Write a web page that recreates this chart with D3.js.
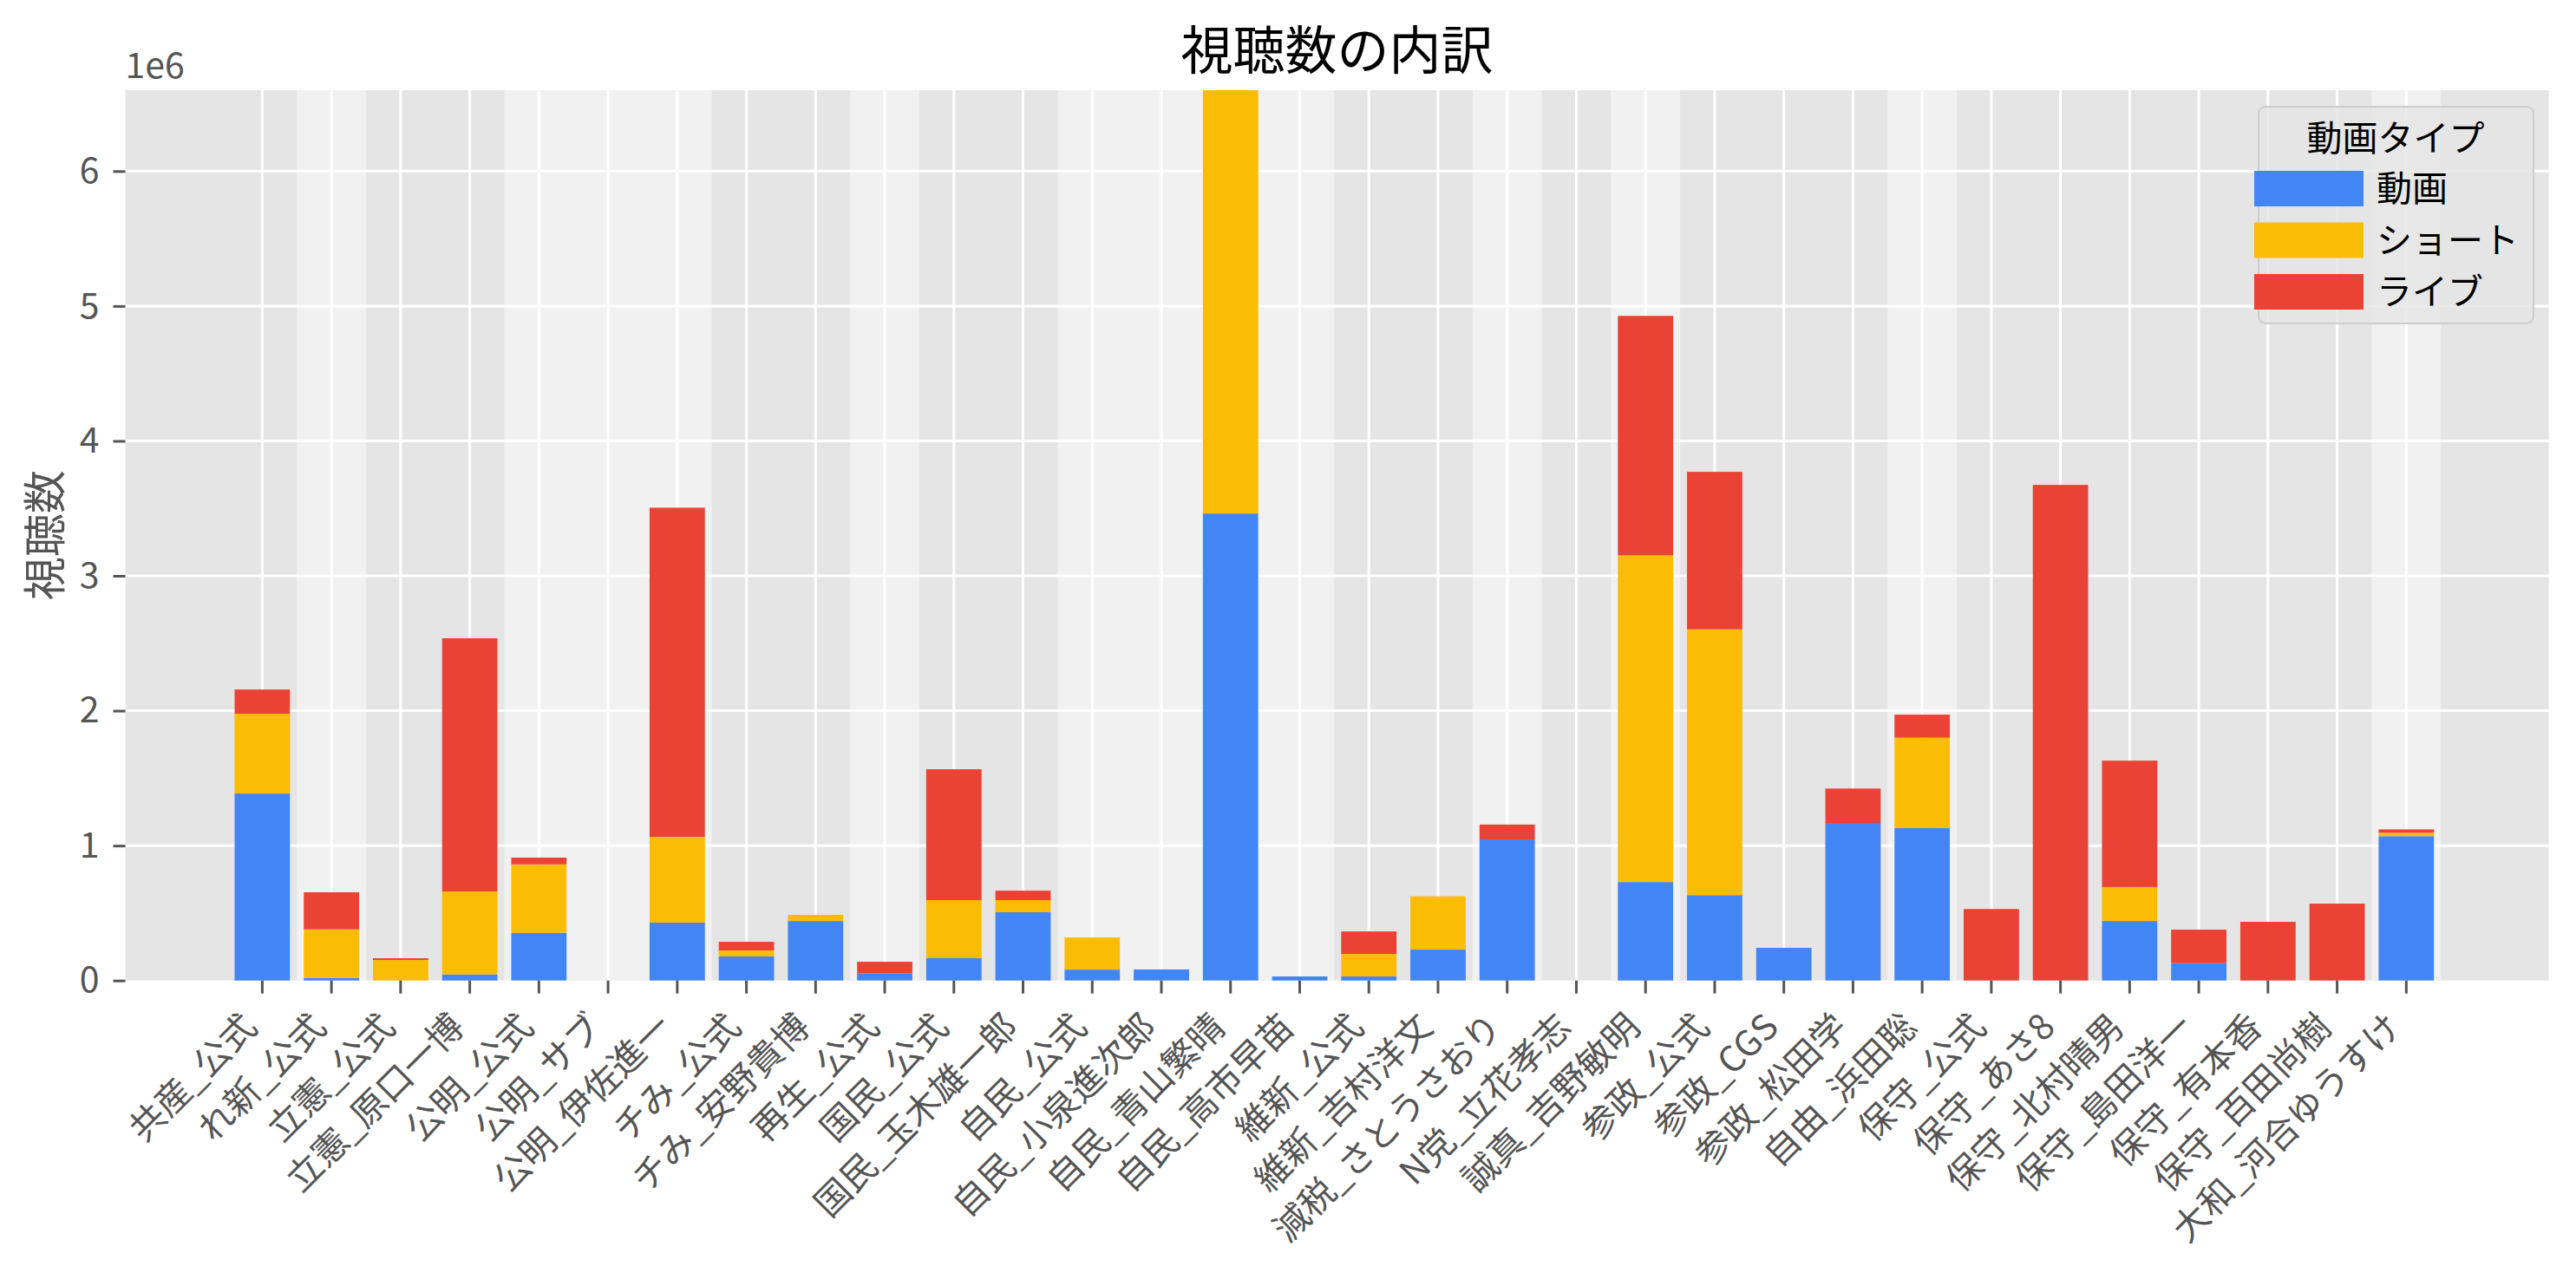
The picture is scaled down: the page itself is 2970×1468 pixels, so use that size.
<!DOCTYPE html>
<html>
<head>
<meta charset="utf-8">
<script src="https://cdn.jsdelivr.net/npm/d3@7"></script>
<style>
	body { margin: 0; background: #fff; }
	text { font-family: "Noto Sans CJK JP", "Noto Sans", sans-serif; }
</style>
</head>
<body>
<svg width="2970" height="1468"></svg>
<script>
// channels (party_name)
var channels = ["共産_公式", "れ新_公式", "立憲_公式", "立憲_原口一博", "公明_公式", "公明_サブ", "公明_伊佐進一",
	"チみ_公式", "チみ_安野貴博", "再生_公式", "国民_公式", "国民_玉木雄一郎", "自民_公式", "自民_小泉進次郎",
	"自民_青山繁晴", "自民_高市早苗", "維新_公式", "維新_吉村洋文", "減税_さとうさおり", "N党_立花孝志",
	"誠真_吉野敏明", "参政_公式", "参政_CGS", "参政_松田学", "自由_浜田聡", "保守_公式", "保守_あさ8",
	"保守_北村晴男", "保守_島田洋一", "保守_有本香", "保守_百田尚樹", "大和_河合ゆうすけ"];

// views per video type
var videoViews = [1386000, 20000, 0, 45000, 353000, 0, 429000, 178000, 441000, 52000, 165000, 506000, 81000, 82000,
	3462000, 30000, 30000, 229000, 1046000, 0, 730000, 633000, 242000, 1168000, 1130000, 0, 0, 441000, 129000, 0, 0, 1070000];
var shortViews = [592000, 359000, 152000, 615000, 508000, 0, 636000, 45000, 46000, 0, 431000, 90000, 238000, 0,
	3138000, 0, 167000, 395000, 0, 0, 2421000, 1970000, 0, 0, 670000, 0, 0, 252000, 0, 0, 0, 25000];
var liveViews = [179000, 275000, 13000, 1877000, 50000, 0, 2440000, 64000, 0, 87000, 970000, 70000, 0, 0,
	0, 0, 167000, 0, 110000, 0, 1776000, 1168000, 0, 255000, 171000, 530000, 3674000, 937000, 248000, 435000, 570000, 25000];

var keys = ["動画", "ショート", "ライブ"];
var colors = ["#4285F4", "#FBBC05", "#EA4335"];
var yTicks = [0, 1e6, 2e6, 3e6, 4e6, 5e6, 6e6];

var svg = d3.select("svg"),
	plotLeft = 144.5, plotRight = 2938.6, plotTop = 104, plotBottom = 1130.7;

var data = channels.map(function (c, i) {
	return {channel: c, "動画": videoViews[i], "ショート": shortViews[i], "ライブ": liveViews[i]};
});
var totals = data.map(function (d) { return d["動画"] + d["ショート"] + d["ライブ"]; });

var x = d3.scaleLinear().domain([-1.98, channels.length + 1.06]).range([plotLeft, plotRight]);
var y = d3.scaleLinear().domain([0, d3.max(totals)]).range([plotBottom, plotTop]);
var z = d3.scaleOrdinal().domain(keys).range(colors);

// background + alternating party bands
svg.append("rect")
	.attr("x", plotLeft).attr("y", plotTop)
	.attr("width", plotRight - plotLeft).attr("height", plotBottom - plotTop)
	.attr("fill", "#e5e5e5");

var groups = [];
channels.forEach(function (c, i) {
	var p = c.split("_")[0];
	if (!groups.length || groups[groups.length - 1].party !== p) groups.push({party: p, first: i, last: i});
	else groups[groups.length - 1].last = i;
});

svg.append("g")
	.selectAll("rect")
	.data(groups.filter(function (g, i) { return i % 2 === 1; }))
	.enter().append("rect")
	.attr("x", function (g) { return x(g.first - 0.5); })
	.attr("width", function (g) { return x(g.last + 0.5) - x(g.first - 0.5); })
	.attr("y", plotTop)
	.attr("height", plotBottom - plotTop)
	.attr("fill", "#f1f1f1");

// grid
var grid = svg.append("g").attr("stroke", "#fff").attr("stroke-width", 3);
grid.selectAll("line.v")
	.data(channels)
	.enter().append("line")
	.attr("class", "v")
	.attr("x1", function (d, i) { return x(i); })
	.attr("x2", function (d, i) { return x(i); })
	.attr("y1", plotTop).attr("y2", plotBottom);
grid.selectAll("line.h")
	.data(yTicks.slice(1))
	.enter().append("line")
	.attr("class", "h")
	.attr("x1", plotLeft).attr("x2", plotRight)
	.attr("y1", function (d) { return y(d); })
	.attr("y2", function (d) { return y(d); });

// stacked bars
var bw = x(0.4) - x(-0.4);
svg.append("g")
	.selectAll("g")
	.data(d3.stack().keys(keys)(data))
	.enter().append("g")
	.attr("fill", function (d) { return z(d.key); })
	.selectAll("rect")
	.data(function (d) { return d; })
	.enter().append("rect")
	.attr("x", function (d, i) { return x(i) - bw / 2; })
	.attr("y", function (d) { return y(d[1]); })
	.attr("height", function (d) { return y(d[0]) - y(d[1]); })
	.attr("width", bw);

// y axis
var yAxis = svg.append("g")
	.attr("transform", "translate(" + plotLeft + ",0)")
	.call(d3.axisLeft(y).tickValues(yTicks).tickSize(14).tickPadding(16)
		.tickFormat(function (d) { return d / 1e6; }));
yAxis.select(".domain").remove();
yAxis.selectAll(".tick line").attr("stroke", "#555").attr("stroke-width", 3);
yAxis.selectAll(".tick text")
	.attr("fill", "#555")
	.attr("font-size", 41)
	.style("font-family", "'Noto Sans CJK JP'");

svg.append("text")
	.attr("x", plotLeft).attr("y", 90)
	.attr("fill", "#555")
	.attr("font-size", 41)
	.text("1e6");

// x axis
var xt = svg.append("g").selectAll("g")
	.data(channels)
	.enter().append("g")
	.attr("transform", function (d, i) { return "translate(" + x(i) + "," + plotBottom + ")"; });
xt.append("line")
	.attr("y1", 0).attr("y2", 15)
	.attr("stroke", "#555").attr("stroke-width", 3);
xt.append("text")
	.attr("text-anchor", "end")
	.attr("transform", "translate(-4,56) rotate(-45)")
	.attr("fill", "#555")
	.attr("font-size", 41)
	.text(function (d) { return d; });

// labels
svg.append("text")
	.attr("x", (plotLeft + plotRight) / 2).attr("y", 80)
	.attr("text-anchor", "middle")
	.attr("font-size", 60)
	.attr("fill", "#000")
	.text("視聴数の内訳");

svg.append("text")
	.attr("transform", "translate(70," + (plotTop + plotBottom) / 2 + ") rotate(-90)")
	.attr("text-anchor", "middle")
	.attr("font-size", 50)
	.attr("fill", "#555")
	.text("視聴数");

// legend
var lg = svg.append("g");
lg.append("rect")
	.attr("x", 2604).attr("y", 123)
	.attr("width", 317).attr("height", 250)
	.attr("rx", 8)
	.attr("fill", "#e5e5e5").attr("fill-opacity", 0.8)
	.attr("stroke", "#cccccc").attr("stroke-width", 2);
lg.append("text")
	.attr("x", 2762).attr("y", 174)
	.attr("text-anchor", "middle")
	.attr("font-size", 41)
	.attr("fill", "#000")
	.text("動画タイプ");
var item = lg.selectAll("g")
	.data(keys)
	.enter().append("g")
	.attr("transform", function (d, i) { return "translate(2599," + (197 + i * 59.5) + ")"; });
item.append("rect")
	.attr("width", 126).attr("height", 41)
	.attr("fill", z);
item.append("text")
	.attr("x", 141).attr("y", 20.5)
	.attr("dy", "0.36em")
	.attr("font-size", 41)
	.attr("fill", "#000")
	.text(function (d) { return d; });
</script>
</body>
</html>
